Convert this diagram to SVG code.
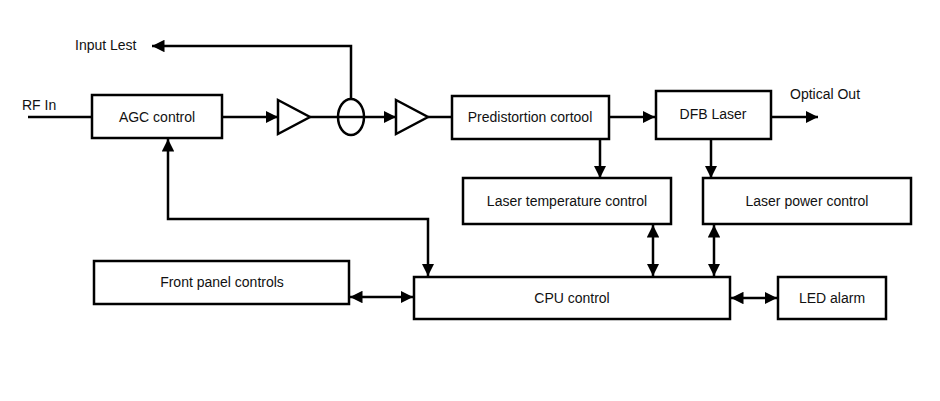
<svg xmlns="http://www.w3.org/2000/svg" width="940" height="401" viewBox="0 0 940 401">
<style>
.b{fill:#fff;stroke:#000;stroke-width:2.5}
.c{fill:none;stroke:#000;stroke-width:2.5}
text{font-family:"Liberation Sans",Arial,sans-serif;font-size:14px;fill:#111}
.m{text-anchor:middle}
</style>
<defs>
<marker id="a" viewBox="0 0 10 10" refX="10" refY="5" markerWidth="5" markerHeight="5" orient="auto-start-reverse" markerUnits="strokeWidth"><path d="M0,0L10,5L0,10z" fill="#000"/></marker>
</defs>
<rect width="940" height="401" fill="#fff"/>
<g id="connectors">
<path class="c" d="M28,117H92"/>
<path class="c" d="M222,117H278" marker-end="url(#a)"/>
<path class="c" d="M310,117H338"/>
<path class="c" d="M364,117H396" marker-end="url(#a)"/>
<path class="c" d="M428,117H452"/>
<path class="c" d="M351,99V46H152" marker-end="url(#a)"/>
<path class="c" d="M609,117H655" marker-end="url(#a)"/>
<path class="c" d="M771,117H818" marker-end="url(#a)"/>
<path class="c" d="M600,139V178" marker-end="url(#a)"/>
<path class="c" d="M711,139V178" marker-end="url(#a)"/>
<path class="c" d="M653,225V276" marker-start="url(#a)" marker-end="url(#a)"/>
<path class="c" d="M714,225V276" marker-start="url(#a)" marker-end="url(#a)"/>
<path class="c" d="M731,298H777" marker-start="url(#a)" marker-end="url(#a)"/>
<path class="c" d="M350,297H413" marker-start="url(#a)" marker-end="url(#a)"/>
<path class="c" d="M428,276V219H168V139" marker-start="url(#a)" marker-end="url(#a)"/>
</g>
<g id="rfin"><text x="22" y="110">RF In</text></g>
<g id="inputlest"><text x="75" y="50">Input Lest</text></g>
<g id="optout"><text x="790" y="99">Optical Out</text></g>
<g id="agc"><rect class="b" x="92" y="95" width="130" height="43"/><text class="m" x="157" y="122">AGC control</text></g>
<g id="amp1"><path class="b" d="M278,100L310,117L278,134z"/></g>
<g id="coupler"><ellipse class="b" cx="351" cy="117" rx="13" ry="18"/><path class="c" d="M338,117H364"/></g>
<g id="amp2"><path class="b" d="M396,100L428,117L396,134z"/></g>
<g id="predist"><rect class="b" x="452" y="96" width="157" height="43"/><text class="m" x="530" y="122">Predistortion cortool</text></g>
<g id="dfb"><rect class="b" x="656" y="91" width="115" height="48"/><text class="m" x="713" y="119">DFB Laser</text></g>
<g id="ltc"><rect class="b" x="463" y="178" width="208" height="46"/><text class="m" x="567" y="206">Laser temperature control</text></g>
<g id="lpc"><rect class="b" x="703" y="178" width="208" height="46"/><text class="m" x="807" y="206">Laser power control</text></g>
<g id="front"><rect class="b" x="94" y="261" width="255" height="43"/><text class="m" x="222" y="287">Front panel controls</text></g>
<g id="cpu"><rect class="b" x="414" y="277" width="316" height="42"/><text class="m" x="572" y="303">CPU control</text></g>
<g id="led"><rect class="b" x="778" y="277" width="108" height="42"/><text class="m" x="832" y="303">LED alarm</text></g>
</svg>
